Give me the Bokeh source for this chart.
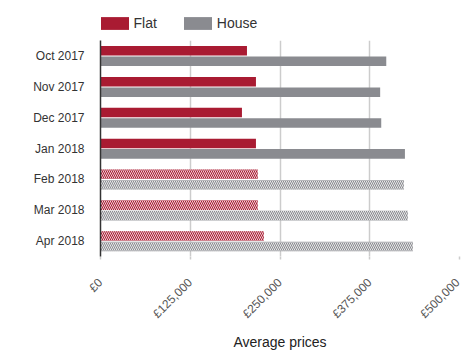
import math
from bokeh.plotting import figure
from bokeh.layouts import column
from bokeh.models import (ColumnDataSource, FactorRange, Range1d, FixedTicker,
                          Legend, LegendItem)
from bokeh.transform import dodge
from bokeh.embed import file_html
from bokeh.resources import INLINE

months = ["Oct 2017", "Nov 2017", "Dec 2017", "Jan 2018", "Feb 2018", "Mar 2018", "Apr 2018"]
flat = [204000, 216500, 197000, 216500, 219000, 219000, 227500]
house = [398000, 389500, 391000, 424000, 422500, 428000, 435000]
forecast = [False, False, False, False, True, True, True]
tick_values = [0, 125000, 250000, 375000, 500000]
tick_labels = ["£0", "£125,000", "£250,000", "£375,000", "£500,000"]
series_names = ["Flat", "House"]
colors = ["#A91B32", "#8A8B90"]

hatch = ["\\" if f else " " for f in forecast]
src = ColumnDataSource(dict(month=months, flat=flat, house=house, hatch=hatch))

FONT = "Liberation Sans"

# ---- legend strip ----
lg = figure(width=462, height=40, output_backend="svg", toolbar_location=None,
            x_range=Range1d(0, 1), y_range=Range1d(0, 1),
            x_axis_type=None, y_axis_type=None,
            min_border_left=0, min_border_right=0, min_border_top=0, min_border_bottom=0)
lg.outline_line_color = None
lg.xgrid.grid_line_color = None
lg.ygrid.grid_line_color = None
lr = []
for c in colors:
    # placeholder bar outside the visible range: only its legend swatch shows
    lr.append(lg.hbar(y=[-5], right=[1], left=0, height=0.3, fill_color=c, line_color=None))
legend = Legend(items=[LegendItem(label=n, renderers=[r]) for n, r in zip(series_names, lr)],
                orientation="horizontal", location=(-3.5, 9),
                glyph_width=35, glyph_height=16, label_height=16,
                label_text_font=FONT, label_text_font_size="14px",
                label_text_color="#333333", label_standoff=2, spacing=23,
                padding=0, margin=0, border_line_color=None,
                background_fill_alpha=0)
lg.add_layout(legend)

# ---- main chart ----
p = figure(width=462, height=312, output_backend="svg", toolbar_location=None,
           y_range=FactorRange(factors=list(reversed(months)), range_padding=0),
           x_range=Range1d(0, 500000),
           min_border_left=100, min_border_right=3, min_border_top=0,
           min_border_bottom=95)
p.outline_line_color = None

p.hbar(y=dodge("month", 0.165, range=p.y_range), right="flat", left=0,
       height=0.31, source=src, fill_color=colors[0], line_color=None,
       hatch_pattern="hatch", hatch_color="white", hatch_scale=4,
       hatch_weight=0.8)
p.hbar(y=dodge("month", -0.175, range=p.y_range), right="house", left=0,
       height=0.31, source=src, fill_color=colors[1], line_color=None,
       hatch_pattern="hatch", hatch_color="white", hatch_scale=4,
       hatch_weight=0.8)

p.xaxis.ticker = FixedTicker(ticks=tick_values)
p.xaxis.major_label_overrides = {v: l for v, l in zip(tick_values, tick_labels)}
p.xaxis.major_label_orientation = math.pi / 4
p.xaxis.major_label_text_font = FONT
p.xaxis.major_label_text_font_size = "12px"
p.xaxis.major_label_text_color = "#555555"
p.xaxis.major_label_standoff = 21
p.xaxis.axis_line_color = None
p.xaxis.major_tick_line_color = "#cccccc"
p.xaxis.major_tick_line_width = 1.5
p.xaxis.major_tick_out = 3
p.xaxis.major_tick_in = 0
p.xaxis.minor_tick_line_color = None
p.xaxis.axis_label = "Average prices"
p.xaxis.axis_label_text_font = FONT
p.xaxis.axis_label_text_font_size = "14px"
p.xaxis.axis_label_text_font_style = "normal"
p.xaxis.axis_label_text_color = "#222222"
p.xaxis.axis_label_standoff = 5

p.yaxis.axis_line_color = "#333333"
p.yaxis.axis_line_width = 1.5
p.yaxis.major_tick_line_color = None
p.yaxis.minor_tick_line_color = None
p.yaxis.major_label_text_font = FONT
p.yaxis.major_label_text_font_size = "12px"
p.yaxis.major_label_text_color = "#333333"
p.yaxis.major_label_standoff = 10

p.ygrid.grid_line_color = None
p.xgrid.grid_line_color = "#cccccc"
p.xgrid.grid_line_width = 1.5

layout = column(lg, p, spacing=0)
open("out.html", "w").write(file_html(layout, INLINE))
